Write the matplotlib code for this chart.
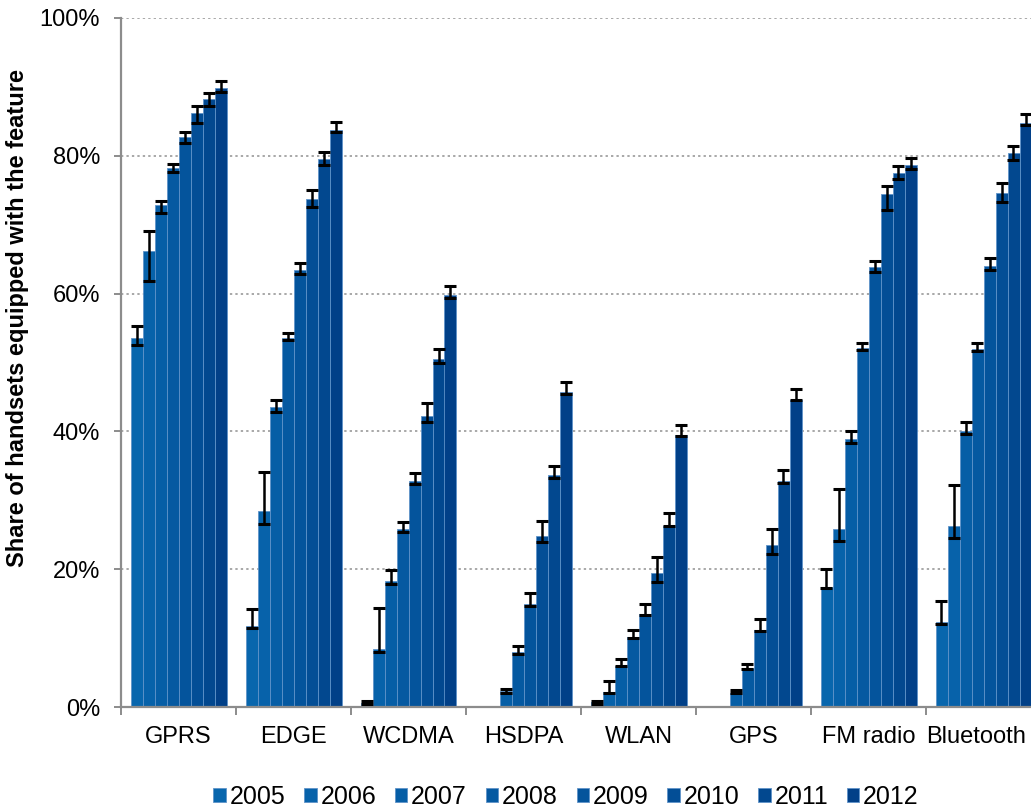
import numpy as np
import matplotlib
matplotlib.use("Agg")
import matplotlib.pyplot as plt
import matplotlib.transforms as mtransforms
from matplotlib.ticker import FuncFormatter

plt.rcParams['font.family'] = ['Liberation Sans', 'DejaVu Sans']

features = ['GPRS', 'EDGE', 'WCDMA', 'HSDPA', 'WLAN', 'GPS', 'FM radio', 'Bluetooth']
years = ['2005', '2006', '2007', '2008', '2009', '2010', '2011', '2012']

# share of handsets (%) per feature, one column per year
share = [
    [53.5, 66.2, 72.8, 78.2, 82.7, 86.2, 88.2, 89.8],   # GPRS
    [11.8, 28.4, 43.5, 53.5, 63.4, 73.8, 79.5, 83.7],   # EDGE
    [0.6, 8.4, 18.3, 25.8, 32.8, 42.2, 50.5, 59.8],     # WCDMA
    [0.1, 0.15, 2.3, 8.0, 15.0, 24.8, 33.7, 45.7],      # HSDPA
    [0.7, 2.2, 6.0, 10.1, 13.5, 19.4, 26.3, 39.5],      # WLAN
    [0.1, 0.15, 2.1, 5.6, 11.2, 23.5, 32.8, 44.6],      # GPS
    [17.4, 25.8, 38.9, 52.1, 63.8, 74.4, 77.5, 78.6],   # FM radio
    [12.3, 26.3, 40.1, 52.0, 64.0, 74.6, 80.4, 84.8],   # Bluetooth
]
# lower and upper ends of the error range (%)
share_lo = [
    [52.5, 61.8, 71.7, 77.6, 81.9, 84.7, 87.2, 89.3],
    [11.5, 26.6, 42.8, 53.2, 62.9, 72.5, 78.6, 83.4],
    [0.4, 8.0, 17.9, 25.4, 32.3, 41.4, 50.0, 59.4],
    [0.1, 0.15, 2.0, 7.7, 14.7, 24.0, 33.2, 45.4],
    [0.5, 2.1, 5.9, 10.0, 13.4, 18.1, 26.2, 39.3],
    [0.1, 0.15, 2.0, 5.5, 11.1, 22.2, 32.5, 44.5],
    [17.2, 24.1, 38.3, 51.8, 63.2, 72.1, 76.7, 78.1],
    [12.1, 24.5, 39.6, 51.6, 63.4, 73.3, 79.4, 84.4],
]
share_hi = [
    [55.3, 69.1, 73.4, 78.8, 83.5, 87.2, 89.1, 90.9],
    [14.2, 34.1, 44.6, 54.3, 64.4, 75.0, 80.5, 84.9],
    [0.8, 14.4, 19.9, 26.8, 33.9, 44.1, 51.9, 61.1],
    [0.1, 0.15, 2.6, 8.9, 16.5, 27.0, 35.0, 47.1],
    [0.8, 3.8, 6.9, 11.2, 15.0, 21.7, 28.1, 41.0],
    [0.1, 0.15, 2.4, 6.2, 12.8, 25.8, 34.4, 46.1],
    [20.0, 31.6, 40.1, 52.8, 64.7, 75.6, 78.5, 79.7],
    [15.4, 32.2, 41.4, 52.9, 65.2, 76.0, 81.4, 86.0],
]

colors = ['#0866AD', '#0762AA', '#065EA6', '#0559A1', '#04549C', '#034E96', '#02488F', '#014088']

share = np.array(share)
share_lo = np.array(share_lo)
share_hi = np.array(share_hi)

fig = plt.figure(figsize=(10.31, 8.07), dpi=100)
ax = fig.add_axes([121 / 1031, 100 / 807, 920 / 1031, 689 / 807])

n = len(years)
bar_w = (96 / 115) / n
x = np.arange(len(features))
start = x - bar_w * n / 2

for j in range(n):
    pos = start + bar_w * (j + 0.5)
    vals = share[:, j]
    ax.bar(pos, vals, width=bar_w, color=colors[j], edgecolor='#5f93c9',
           linewidth=0.6, label=years[j], zorder=2)
    err = np.vstack([vals - share_lo[:, j], share_hi[:, j] - vals])
    has_err = (share_hi[:, j] - share_lo[:, j]) > 0
    ax.errorbar(pos[has_err], vals[has_err], yerr=err[:, has_err], fmt='none',
                ecolor='black', elinewidth=1.8, capsize=4.6, capthick=2.2, zorder=3)

ax.set_xlim(-0.5, len(features) - 0.5)
ax.set_ylim(0, 100)
ax.set_yticks([0, 20, 40, 60, 80, 100])
ax.yaxis.set_major_formatter(FuncFormatter(lambda v, p: '%d%%' % v))
ax.grid(axis='y', color='#a8a8a8', linestyle=(0, (1.2, 1.6)), linewidth=1.4, zorder=0)

# group labels centred, tick marks between groups
ax.set_xticks(x)
ax.set_xticklabels(features)
ax.set_xticks(np.arange(-0.5, len(features)), minor=True)
ax.tick_params(axis='x', which='major', length=0, pad=14, labelsize=17)
ax.tick_params(axis='x', which='minor', length=6, width=1.4, color='#8c8c8c', direction='out')
ax.tick_params(axis='y', length=5, width=1.4, color='#8c8c8c', labelsize=17, pad=10)

# last group sits at the figure edge, pull its label in a little
last = ax.get_xticklabels()[-1]
last.set_transform(last.get_transform() +
                   mtransforms.ScaledTranslation(-7 / 100, 0, fig.dpi_scale_trans))

for side in ['top', 'right']:
    ax.spines[side].set_visible(False)
for side in ['left', 'bottom']:
    ax.spines[side].set_color('#8c8c8c')
    ax.spines[side].set_linewidth(1.6)

ax.set_ylabel('Share of handsets equipped with the feature', fontsize=17,
              fontweight='bold')
ax.yaxis.set_label_coords(-0.1, 0.565)

fig.legend(loc='center', bbox_to_anchor=(566 / 1031, 1 - 797 / 807), ncol=n,
           frameon=False, fontsize=18, handlelength=0.5, handleheight=0.5,
           handletextpad=0.15, columnspacing=0.75, borderaxespad=0)

fig.savefig('out.png', dpi=100)
